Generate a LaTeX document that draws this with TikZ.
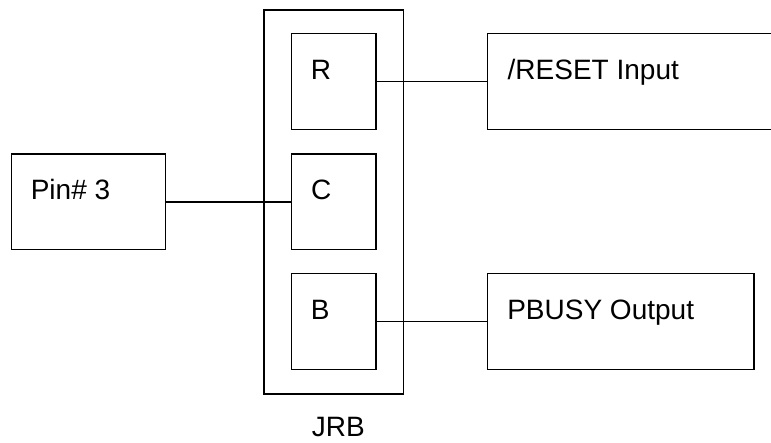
\documentclass[tikz,border=0pt]{standalone}
\usepackage{fontspec}
\setmainfont{Liberation Sans}
\begin{document}
\begin{tikzpicture}[x=1pt,y=-1pt,
  box/.style={draw=black,line width=1.4pt,rectangle,inner sep=0pt,outer sep=0pt},
  lbl/.style={anchor=base west,inner sep=0pt,font=\fontsize{28}{33}\selectfont},
  wire/.style={draw=black,line width=1.4pt}]
\useasboundingbox (0,0) rectangle (771,442);
\clip (0,0) rectangle (771,442);
% boxes
\node[box,minimum width=139.3pt,minimum height=384pt] (jrb) at (333.7,202) {};
\node[box,minimum width=84.3pt,minimum height=96pt] (r) at (333.85,81.7) {};
\node[box,minimum width=84.3pt,minimum height=95.7pt] (c) at (333.85,201.85) {};
\node[box,minimum width=84.3pt,minimum height=96pt] (b) at (333.85,321.7) {};
\node[box,minimum width=154pt,minimum height=95.7pt] (pin) at (88.7,201.85) {};
\node[box,minimum width=312.7pt,minimum height=96pt] (reset) at (643.65,81.7) {};
\node[box,minimum width=266.7pt,minimum height=96pt] (pbusy) at (620.65,321.7) {};
% labels
\node[lbl] (rt) at (310.6,79) {R};
\node[lbl] (ct) at (311.0,199) {C};
\node[lbl] (bt) at (310.6,319.3) {B};
\node[lbl] (pint) at (30.6,199.3) {Pin\# 3};
\node[lbl] (resett) at (507.5,79.5) {/RESET Input};
\node[lbl] (pbusyt) at (507.1,319.3) {PBUSY Output};
\node[lbl] (jrbt) at (311.6,436.7) {JRB};
% connectors
\draw[wire] (r.east) -- (reset.west);
\draw[wire] (pin.east) -- (c.west);
\draw[wire] (b.east) -- (pbusy.west);
\end{tikzpicture}
\end{document}
